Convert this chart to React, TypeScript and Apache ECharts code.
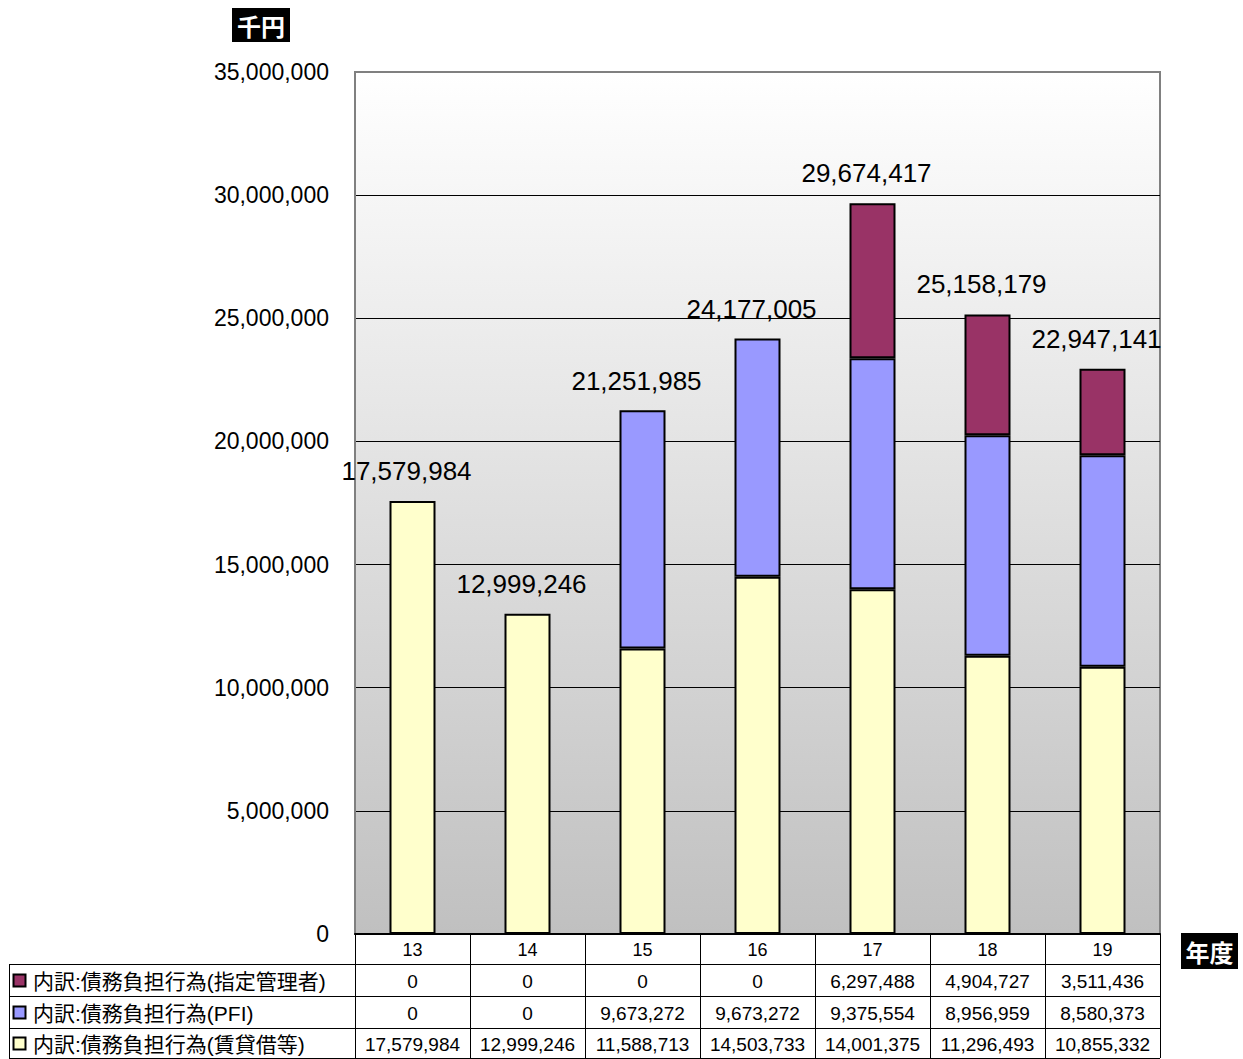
import React, { useEffect, useRef } from "react";
import * as echarts from "echarts";

const categories = ["13", "14", "15", "16", "17", "18", "19"];
const shiteiKanri = [0, 0, 0, 0, 6297488, 4904727, 3511436];
const pfi = [0, 0, 9673272, 9673272, 9375554, 8956959, 8580373];
const chintai = [17579984, 12999246, 11588713, 14503733, 14001375, 11296493, 10855332];
const totals = [17579984, 12999246, 21251985, 24177005, 29674417, 25158179, 22947141];
const seriesNames = [
  "内訳:債務負担行為(指定管理者)",
  "内訳:債務負担行為(PFI)",
  "内訳:債務負担行為(賃貸借等)",
];
const seriesColors = ["#993366", "#9999FF", "#FFFFCC"];
const tableRows = [shiteiKanri, pfi, chintai];

const FONT = "'Liberation Sans', 'Noto Sans CJK JP', sans-serif";
const fmt = (v: number) => v.toLocaleString("en-US");
const nz = (arr: number[]) => arr.map((v) => (v === 0 ? null : v));

export default function App() {
  const ref = useRef<HTMLDivElement>(null);
  useEffect(() => {
    if (!ref.current) return;
    const chart = echarts.init(ref.current, null, { renderer: "svg" });
    const gridTop = 72;
    const gridBottomY = 934;
    const H = 1059;
    const barStyle = (c: string) => ({ color: c, borderColor: "#000", borderWidth: 2 });
    const option: any = {
      animation: false,
      textStyle: { fontFamily: FONT },
      grid: {
        left: 355,
        right: 1243 - 1160,
        top: gridTop,
        bottom: H - gridBottomY,
        show: true,
        borderColor: "#808080",
        borderWidth: 2,
        backgroundColor: {
          type: "linear",
          x: 0,
          y: 0,
          x2: 0,
          y2: 1,
          colorStops: [
            { offset: 0, color: "#ffffff" },
            { offset: 1, color: "#c0c0c0" },
          ],
        },
      },
      xAxis: {
        type: "category",
        data: categories,
        axisLine: { show: true, lineStyle: { color: "#000", width: 2 } },
        axisTick: { show: false },
        axisLabel: { color: "#000", fontSize: 18, margin: 7, fontFamily: FONT },
      },
      yAxis: {
        type: "value",
        min: 0,
        max: 35000000,
        interval: 5000000,
        axisLine: { show: true, lineStyle: { color: "#808080", width: 2 } },
        axisTick: { show: false },
        axisLabel: {
          color: "#000",
          fontSize: 23,
          margin: 26,
          fontFamily: FONT,
          formatter: (v: number) => fmt(v),
        },
        splitLine: {
          show: true,
          lineStyle: {
            color: ["#000", "#000", "#000", "#000", "#000", "#000", "#000", "#808080"],
            width: 1,
          },
        },
      },
      series: [
        {
          name: seriesNames[2],
          type: "bar",
          stack: "total",
          barWidth: "40%",
          data: nz(chintai),
          itemStyle: barStyle(seriesColors[2]),
        },
        {
          name: seriesNames[1],
          type: "bar",
          stack: "total",
          barWidth: "40%",
          data: nz(pfi),
          itemStyle: barStyle(seriesColors[1]),
        },
        {
          name: seriesNames[0],
          type: "bar",
          stack: "total",
          barWidth: "40%",
          data: nz(shiteiKanri),
          itemStyle: barStyle(seriesColors[0]),
        },
        {
          name: "合計",
          type: "scatter",
          data: totals,
          symbolSize: 0,
          silent: true,
          itemStyle: { opacity: 1 },
          label: {
            show: true,
            position: "top",
            distance: 17,
            offset: [-6, 0],
            fontSize: 26,
            color: "#000",
            opacity: 1,
            textBorderWidth: 0,
            fontFamily: FONT,
            formatter: (p: any) => fmt(p.value),
          },
        },
      ],
    };
    chart.setOption(option);

    const centers = categories.map((_, i) => chart.convertToPixel({ xAxisIndex: 0 }, i) as number);
    const band = centers.length > 1 ? centers[1] - centers[0] : 115;
    const leftX = centers[0] - band / 2;
    const rightX = centers[centers.length - 1] + band / 2;
    const rowTops = [gridBottomY, 964, 996, 1028, 1058];
    const tableLeft = 9;
    const lineStyle = { stroke: "#000", lineWidth: 1 };
    const g: any[] = [];
    for (let r = 1; r < rowTops.length; r++) {
      g.push({
        type: "line",
        shape: { x1: tableLeft, y1: rowTops[r] + 0.5, x2: rightX, y2: rowTops[r] + 0.5 },
        style: lineStyle,
        silent: true,
      });
    }
    for (let k = 0; k <= categories.length; k++) {
      const x = Math.round(leftX + band * k) + 0.5;
      g.push({
        type: "line",
        shape: { x1: x, y1: gridBottomY, x2: x, y2: rowTops[4] },
        style: lineStyle,
        silent: true,
      });
    }
    g.push({
      type: "line",
      shape: { x1: tableLeft + 0.5, y1: rowTops[1], x2: tableLeft + 0.5, y2: rowTops[4] },
      style: lineStyle,
      silent: true,
    });
    for (let r = 0; r < 3; r++) {
      const cy = (rowTops[r + 1] + rowTops[r + 2]) / 2 + 1;
      g.push({
        type: "rect",
        shape: { x: 13.5, y: cy - 6.5, width: 12, height: 12 },
        style: { fill: seriesColors[r], stroke: "#000", lineWidth: 2 },
        silent: true,
      });
      g.push({
        type: "text",
        x: 33,
        y: cy,
        style: {
          text: seriesNames[r],
          fontSize: 21,
          fontFamily: FONT,
          fill: "#000",
          verticalAlign: "middle",
          align: "left",
        },
        silent: true,
      });
      tableRows[r].forEach((v, i) => {
        g.push({
          type: "text",
          x: centers[i],
          y: cy,
          style: {
            text: fmt(v),
            fontSize: 19,
            fontFamily: FONT,
            fill: "#000",
            align: "center",
            verticalAlign: "middle",
          },
          silent: true,
        });
      });
    }
    g.push({
      type: "group",
      left: 232,
      top: 8,
      children: [
        { type: "rect", shape: { x: 0, y: 0, width: 58, height: 34 }, style: { fill: "#000" } },
        {
          type: "text",
          x: 29,
          y: 17,
          style: {
            text: "千円",
            fill: "#fff",
            fontSize: 24,
            fontWeight: "bold",
            fontFamily: "'Noto Sans CJK JP', sans-serif",
            align: "center",
            verticalAlign: "middle",
          },
        },
      ],
    });
    g.push({
      type: "group",
      left: 1181,
      top: 933,
      children: [
        { type: "rect", shape: { x: 0, y: 0, width: 57, height: 36 }, style: { fill: "#000" } },
        {
          type: "text",
          x: 28.5,
          y: 18,
          style: {
            text: "年度",
            fill: "#fff",
            fontSize: 24,
            fontWeight: "bold",
            fontFamily: "'Noto Sans CJK JP', sans-serif",
            align: "center",
            verticalAlign: "middle",
          },
        },
      ],
    });
    chart.setOption({ graphic: g });

    return () => chart.dispose();
  }, []);
  return (
    <div
      ref={ref}
      style={{ position: "absolute", left: 0, top: 0, width: 1243, height: 1059, background: "#fff" }}
    />
  );
}
